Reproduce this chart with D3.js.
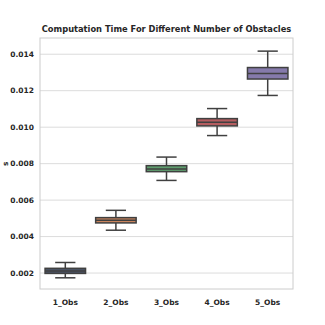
<!DOCTYPE html>
<html>
<head>
<meta charset="utf-8">
<script src="https://cdn.jsdelivr.net/npm/d3@7"></script>
<style>
  body { margin: 0; background: #fff; }
  text { font-family: "DejaVu Sans", sans-serif; font-weight: bold; fill: #262626; }
</style>
</head>
<body>
<div id="chart"></div>
<script>
//// DATA
const CATEGORIES = ["1_Obs", "2_Obs", "3_Obs", "4_Obs", "5_Obs"];
const WHISKER_LOW = [0.00174, 0.00435, 0.00708, 0.00954, 0.01174];
const Q1 = [0.00198, 0.00475, 0.00756, 0.01007, 0.01264];
const MEDIAN = [0.00211, 0.00490, 0.00771, 0.01027, 0.01294];
const Q3 = [0.00226, 0.00504, 0.00789, 0.01047, 0.01327];
const WHISKER_HIGH = [0.00258, 0.00544, 0.00836, 0.01102, 0.01417];
const Y_TICKS = [0.002, 0.004, 0.006, 0.008, 0.010, 0.012, 0.014];
const COLORS = ["#4c5567", "#c9845d", "#5f9e6e", "#b55d60", "#857aab"];

const W = 325, H = 325;
const margin = { top: 38, right: 32, bottom: 36, left: 40 };

const svg = d3.select("#chart").append("svg")
  .attr("width", W).attr("height", H);

const x = d3.scaleBand()
  .domain(CATEGORIES)
  .range([margin.left, W - margin.right])
  .paddingInner(0.2).paddingOuter(0.1);

const y = d3.scaleLinear()
  .domain([0.001126, 0.01489])
  .range([H - margin.bottom, margin.top]);

// grid
svg.append("g").selectAll("line")
  .data(Y_TICKS).join("line")
  .attr("x1", margin.left).attr("x2", W - margin.right)
  .attr("y1", d => y(d)).attr("y2", d => y(d))
  .attr("stroke", "#dcdcdc").attr("stroke-width", 1);

// frame
svg.append("rect")
  .attr("x", margin.left).attr("y", margin.top)
  .attr("width", W - margin.left - margin.right)
  .attr("height", H - margin.top - margin.bottom)
  .attr("fill", "none").attr("stroke", "#cccccc").attr("stroke-width", 1);

// y axis labels
svg.append("g").selectAll("text")
  .data(Y_TICKS).join("text")
  .attr("x", margin.left - 6).attr("y", d => y(d))
  .attr("dy", "0.35em").attr("text-anchor", "end")
  .attr("font-size", 7.5)
  .text(d => d3.format(".3f")(d));

svg.append("text")
  .attr("transform", `translate(5,${y(0.008)}) rotate(-90)`)
  .attr("dy", "0.35em").attr("text-anchor", "middle")
  .attr("font-size", 7.5).text("s");

// x axis labels
svg.append("g").selectAll("text")
  .data(CATEGORIES).join("text")
  .attr("x", d => x(d) + x.bandwidth() / 2)
  .attr("y", H - margin.bottom + 13)
  .attr("dy", "0.35em").attr("text-anchor", "middle")
  .attr("font-size", 7.5)
  .text(d => d);

// title
svg.append("text")
  .attr("x", (margin.left + W - margin.right) / 2).attr("y", margin.top - 6)
  .attr("text-anchor", "middle")
  .attr("font-size", 8.3)
  .attr("fill", "#000")
  .text("Computation Time For Different Number of Obstacles");

// boxes
const LINE = "#404040";
const boxes = CATEGORIES.map((c, i) => ({
  c, lo: WHISKER_LOW[i], q1: Q1[i], med: MEDIAN[i], q3: Q3[i], hi: WHISKER_HIGH[i], color: COLORS[i]
}));

const g = svg.append("g").selectAll("g").data(boxes).join("g");
const cx = d => x(d.c) + x.bandwidth() / 2;
const capW = x.bandwidth() / 2;

g.append("line")
  .attr("x1", cx).attr("x2", cx)
  .attr("y1", d => y(d.q3)).attr("y2", d => y(d.hi))
  .attr("stroke", LINE).attr("stroke-width", 1.5);
g.append("line")
  .attr("x1", cx).attr("x2", cx)
  .attr("y1", d => y(d.q1)).attr("y2", d => y(d.lo))
  .attr("stroke", LINE).attr("stroke-width", 1.5);
g.append("line")
  .attr("x1", d => cx(d) - capW / 2).attr("x2", d => cx(d) + capW / 2)
  .attr("y1", d => y(d.hi)).attr("y2", d => y(d.hi))
  .attr("stroke", LINE).attr("stroke-width", 1.5);
g.append("line")
  .attr("x1", d => cx(d) - capW / 2).attr("x2", d => cx(d) + capW / 2)
  .attr("y1", d => y(d.lo)).attr("y2", d => y(d.lo))
  .attr("stroke", LINE).attr("stroke-width", 1.5);
g.append("rect")
  .attr("x", d => x(d.c)).attr("width", x.bandwidth())
  .attr("y", d => y(d.q3)).attr("height", d => y(d.q1) - y(d.q3))
  .attr("fill", d => d.color).attr("stroke", LINE).attr("stroke-width", 1.5);
g.append("line")
  .attr("x1", d => x(d.c)).attr("x2", d => x(d.c) + x.bandwidth())
  .attr("y1", d => y(d.med)).attr("y2", d => y(d.med))
  .attr("stroke", LINE).attr("stroke-width", 1.5);
</script>
</body>
</html>
